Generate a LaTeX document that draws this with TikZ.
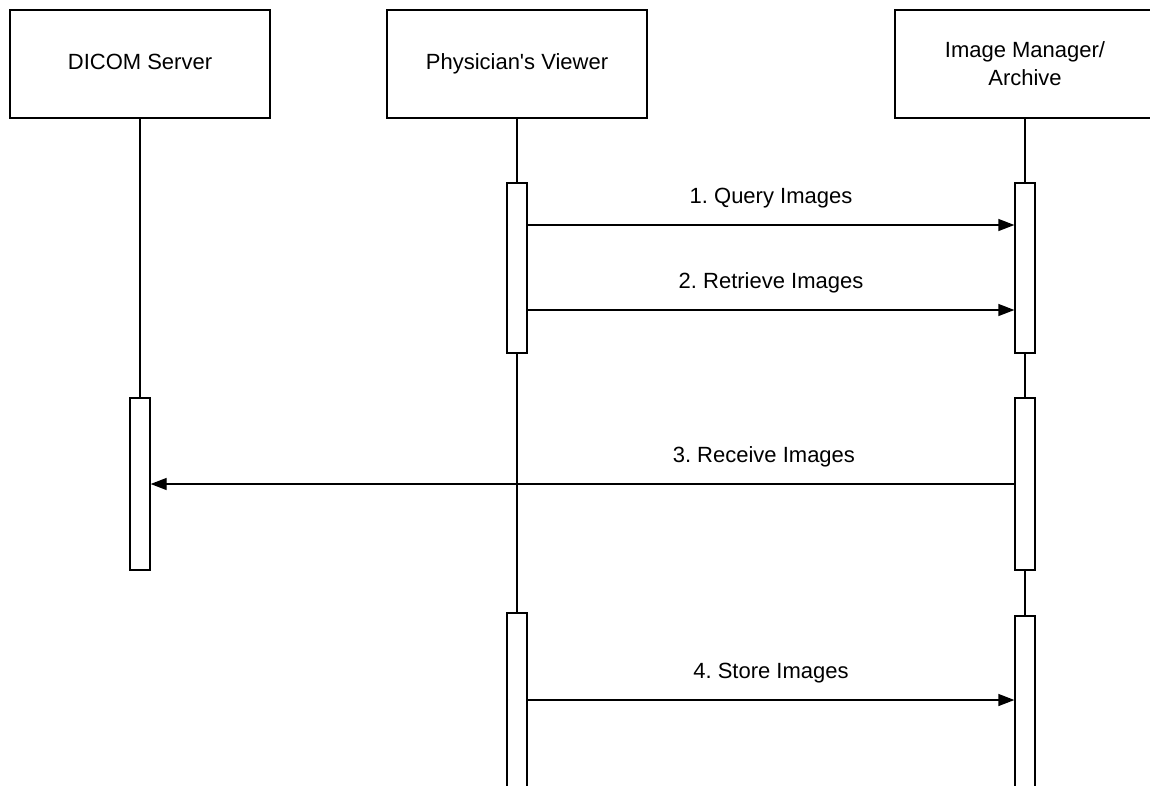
\documentclass[tikz,border=0pt]{standalone}
\usepackage{fontspec}
\setmainfont{Liberation Sans}
\usetikzlibrary{positioning,arrows.meta}
\frenchspacing
\tikzset{actor/.style={draw,line width=1.3pt,minimum width=260pt,minimum height=108pt,
        inner sep=0pt,align=center,font=\fontsize{22}{28}\selectfont},
        bar/.style={draw,line width=1.3pt,fill=white,minimum width=20pt,inner sep=0pt},
        life/.style={line width=1.3pt},
        msg/.style={line width=1.3pt,-{Triangle[length=16pt,width=12pt]}},
        lbl/.style={above=16pt,inner sep=0pt,font=\fontsize{22}{28}\selectfont}}
\begin{document}
\begin{tikzpicture}[x=1pt,y=-1pt]
\useasboundingbox (0,0) rectangle (1150,785);
\clip (0,0) rectangle (1150,785);
% heads
\node[actor,text height=16pt,text depth=5pt] (ds) at (140,64) {DICOM Server};
\node[actor,text height=16pt,text depth=5pt] (pv) at (517,64) {Physician\textquotesingle s Viewer};
\node[actor] (im) at (1025,64) {Image Manager/\\Archive};
% activations
\node[bar,minimum height=170pt] (pv1) at (517,268) {};
\node[bar,minimum height=170pt] (im1) at (1025,268) {};
\node[bar,minimum height=172pt] (ds1) at (140,484) {};
\node[bar,minimum height=172pt] (im2) at (1025,484) {};
\node[bar,minimum height=190pt] (pv2) at (517,708) {};
\node[bar,minimum height=190pt] (im3) at (1025,711) {};
% lifelines
\draw[life] (ds) -- (ds1);
\draw[life] (pv) -- (pv1);
\draw[life] (pv1) -- (pv2);
\draw[life] (im) -- (im1);
\draw[life] (im1) -- (im2);
\draw[life] (im2) -- (im3);
% messages
\coordinate (m1) at (0,225);
\coordinate (m2) at (0,310);
\coordinate (m3) at (0,484);
\coordinate (m4) at (0,700);
\draw[msg] (pv1.east |- m1) -- (im1.west |- m1) node[lbl,midway]{1. Query Images};
\draw[msg] (pv1.east |- m2) -- (im1.west |- m2) node[lbl,midway]{2. Retrieve Images};
\draw[msg] (im2.west |- m3) -- (ds1.east |- m3) node[lbl,pos=0.29]{3. Receive Images};
\draw[msg] (pv2.east |- m4) -- (im3.west |- m4) node[lbl,midway]{4. Store Images};
\end{tikzpicture}
\end{document}
